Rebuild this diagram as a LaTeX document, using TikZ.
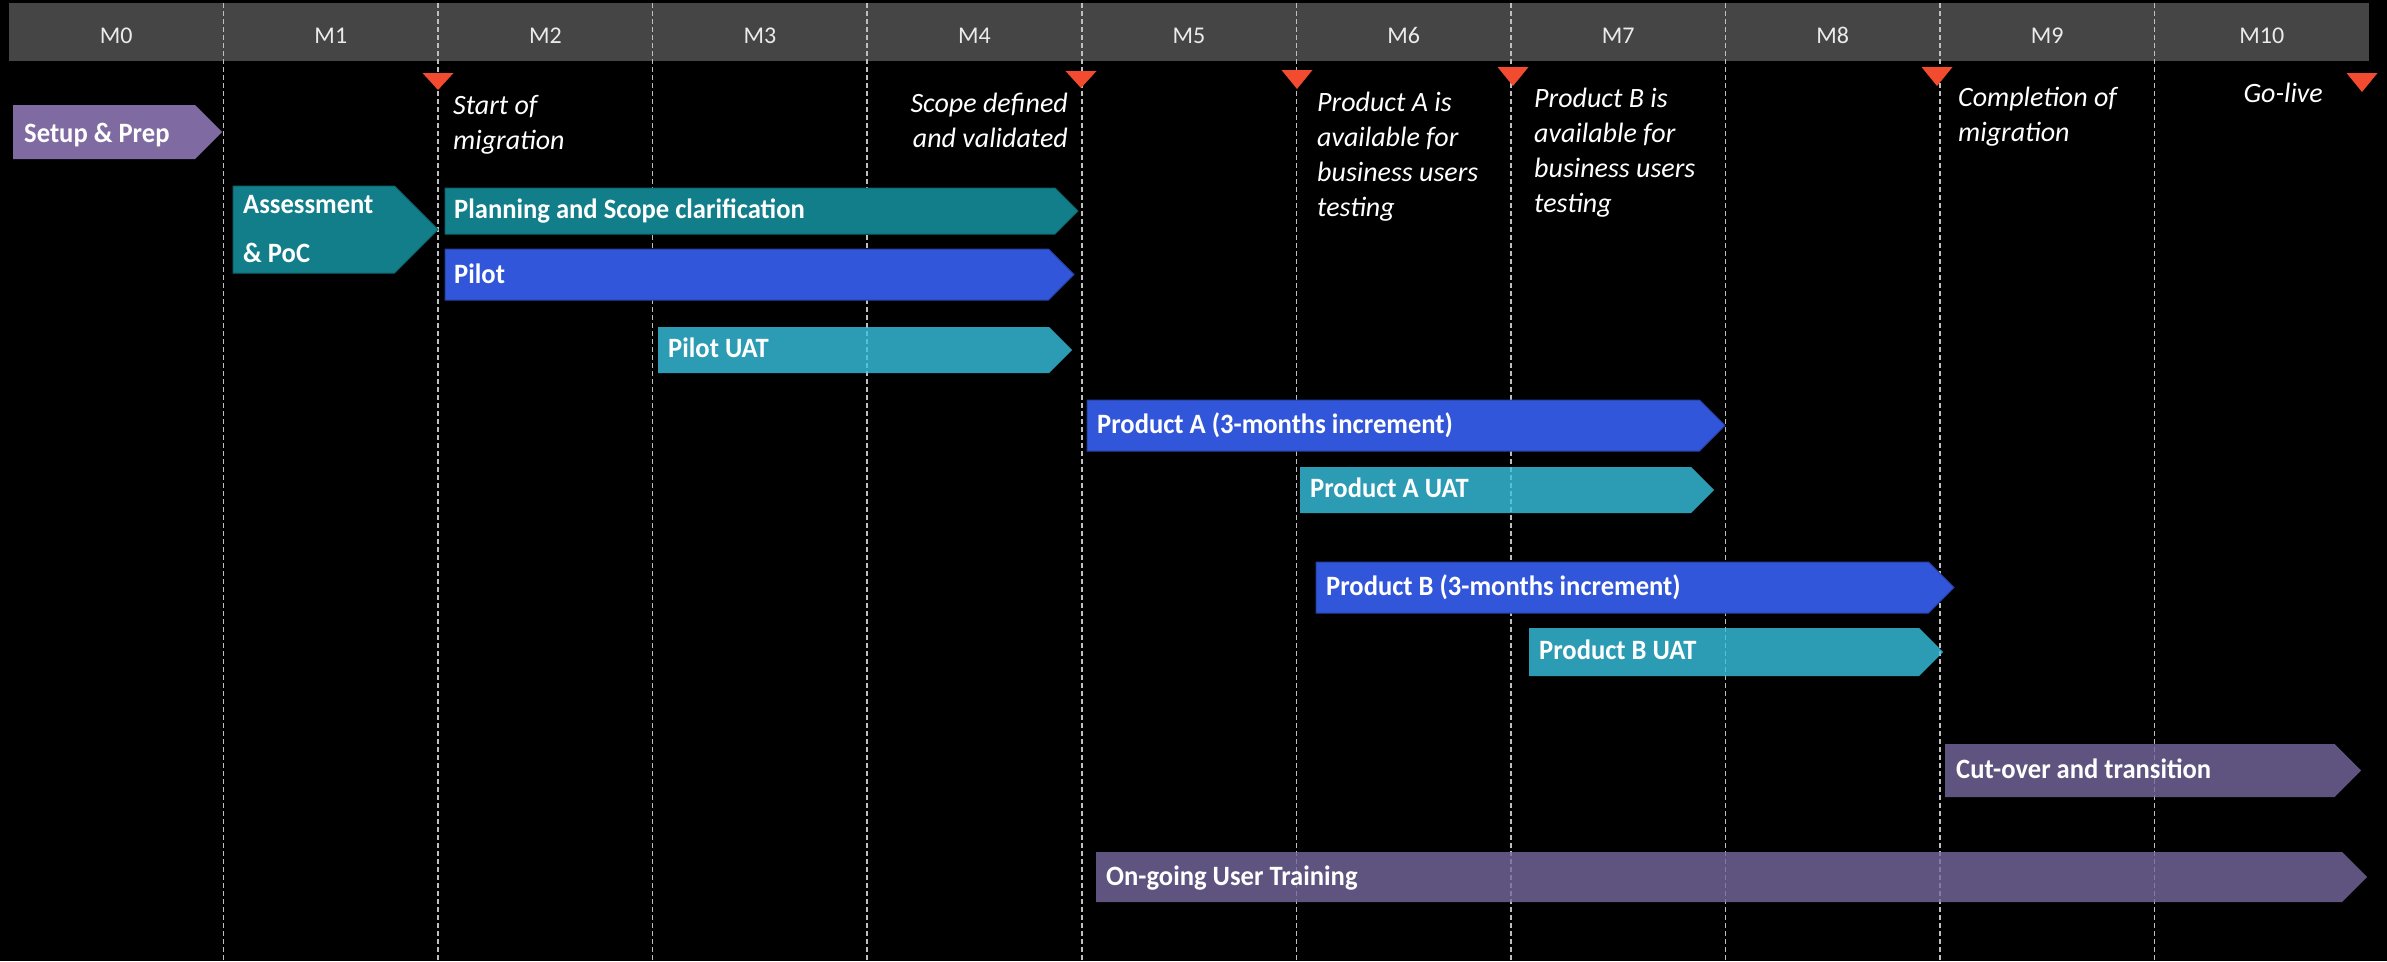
\documentclass[tikz,border=0pt]{standalone}
\usepackage{fontspec}
\setmainfont{Carlito}[BoldFeatures={FakeStretch=0.95}]

\definecolor{headgrey}{HTML}{454545}
\definecolor{gridgrey}{HTML}{BEBEBE}
\definecolor{flagred}{HTML}{F24B30}
\definecolor{prepviolet}{HTML}{7F6AA1}
\definecolor{planteal}{HTML}{117E8A}
\definecolor{buildblue}{HTML}{3256D9}
\definecolor{uatcyan}{HTML}{38C2E1}
\definecolor{runviolet}{HTML}{776AA1}

% chevron bar: left x, tip x, top y, bottom y, style
\newcommand\barshape[5]{%
  \pgfmathsetmacro\bsmid{(#3+#4)/2}%
  \pgfmathsetmacro\bsshoulder{#2-(#4-#3)/2}%
  \path[#5] (#1,#3) -- (\bsshoulder,#3) -- (#2,\bsmid) -- (\bsshoulder,#4) -- (#1,#4) -- cycle;%
}
% milestone marker: x, top y, apex y
\newcommand\milestone[3]{%
  \fill[flagred] (#1-15.5,#2) -- (#1+15.5,#2) -- (#1,#3) -- cycle;%
}

\begin{document}
\begin{tikzpicture}[x=1pt,y=-1pt,
  bartext/.style={anchor=base west, inner sep=0pt, text=white,
    font=\fontsize{28}{34}\selectfont\bfseries},
  note/.style={inner sep=0pt, text=white,
    font=\fontsize{28}{35}\selectfont\itshape},
  month/.style={anchor=base, inner sep=0pt, text=white!92!black,
    font=\fontsize{24}{28}\selectfont},
  gridline/.style={draw=gridgrey, line width=1.5pt, dash pattern=on 5pt off 3pt},
  prepbar/.style={fill=prepviolet},
  planbar/.style={fill=planteal, draw=planteal!80!black, line width=1pt},
  buildbar/.style={fill=buildblue, draw=buildblue!75!black, line width=1pt},
  uatbar/.style={fill=uatcyan, fill opacity=0.8},
  runbar/.style={fill=runviolet, fill opacity=0.8}]

\useasboundingbox (0,0) rectangle (2387,961);
\fill[black] (0,0) rectangle (2387,961);

% month header
\fill[headgrey] (9,3) rectangle (2369,61);
\foreach \k in {0,...,10}
  \node[month] (m\k) at ({9+214.55*(\k+0.5)},43) {M\k};

% month separators
\foreach \k in {1,...,10}
  \draw[gridline] ({9+214.55*\k},3) -- ({9+214.55*\k},961);

% translucent bars (separators show through)
\barshape{658}{1072}{327}{373}{uatbar}
\barshape{1300}{1714}{467}{513}{uatbar}
\barshape{1529}{1943}{628}{676}{uatbar}
\barshape{1945}{2361}{744}{797}{runbar}
\barshape{1096}{2367}{852}{902}{runbar}

% solid bars
\barshape{13}{222}{105}{159}{prepbar}
\barshape{233}{438}{186}{273}{planbar}
\barshape{445}{1078}{188}{234}{planbar}
\barshape{445}{1074}{249}{300}{buildbar}
\barshape{1087}{1725}{400}{451}{buildbar}
\barshape{1316}{1954}{562}{613}{buildbar}

% bar labels
\node[bartext] (setup) at (24,142) {Setup \& Prep};
\node[bartext, anchor=north west, align=left, font=\fontsize{28}{49}\selectfont\bfseries]
  (assess) at (243,178.7) {\strut Assessment\\\& PoC};
\node[bartext] (planning) at (454,218) {Planning and Scope clarification};
\node[bartext] (pilot) at (454,283) {Pilot};
\node[bartext] (pilotuat) at (668,357) {Pilot UAT};
\node[bartext] (proda) at (1097,433) {Product A (3-months increment)};
\node[bartext] (prodauat) at (1310,497) {Product A UAT};
\node[bartext] (prodb) at (1326,595) {Product B (3-months increment)};
\node[bartext] (prodbuat) at (1539,659) {Product B UAT};
\node[bartext] (cutover) at (1956,778) {Cut-over and transition};
\node[bartext] (training) at (1106,885) {On-going User Training};

% milestones
\milestone{438}{73}{90}
\milestone{1081}{71}{88}
\milestone{1297}{70}{89}
\milestone{1513}{67}{86}
\milestone{1937}{67}{86}
\milestone{2362}{73}{92}

\node[note, anchor=north west, align=left] (startmig) at (453,89.5)
  {\strut Start of\\migration};
\node[note, anchor=north east, align=right] (scope) at (1068,87.5)
  {\strut Scope defined\\and validated};
\node[note, anchor=north west, align=left] (availa) at (1317,86.5)
  {\strut Product A is\\available for\\business users\\testing};
\node[note, anchor=north west, align=left] (availb) at (1534,82.5)
  {\strut Product B is\\available for\\business users\\testing};
\node[note, anchor=north west, align=left] (complete) at (1958,81.5)
  {\strut Completion of\\migration};
\node[note, anchor=base east] (golive) at (2323,102) {Go-live};

\end{tikzpicture}
\end{document}
